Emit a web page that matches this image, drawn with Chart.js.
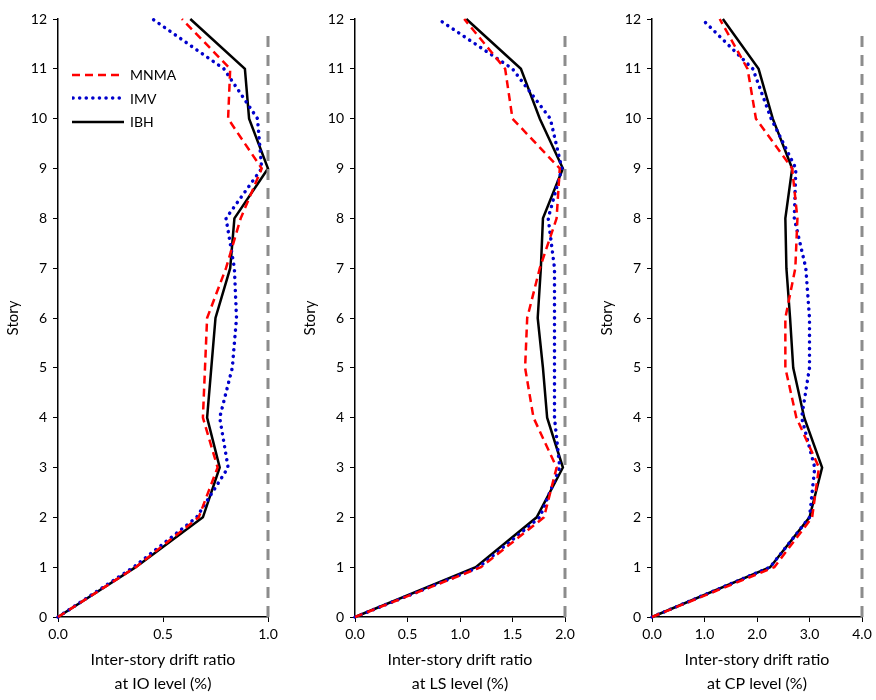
<!DOCTYPE html>
<html>
<head>
<meta charset="utf-8">
<script src="https://cdn.jsdelivr.net/npm/chart.js@4"></script>
<style>
  body { margin: 0; background: #fff; font-family: Lato, sans-serif; }
  .panel { position: absolute; top: 0; width: 292px; height: 700px; }
  #legend { position: absolute; left: 72px; top: 63px; font-size: 14px; color: #000; }
  #legend div { height: 23.5px; display: flex; align-items: center; }
  #legend svg { margin-right: 6px; }
</style>
</head>
<body>
<div class="panel" style="left:0"><canvas id="c0"></canvas></div>
<div class="panel" style="left:297px"><canvas id="c1"></canvas></div>
<div class="panel" style="left:594px"><canvas id="c2"></canvas></div>
<div id="legend">
  <div><svg width="52" height="6"><line x1="0" y1="3" x2="52" y2="3" stroke="#ff0000" stroke-width="2.5" stroke-dasharray="8,5"/></svg>MNMA</div>
  <div><svg width="52" height="6"><line x1="1" y1="3" x2="52" y2="3" stroke="#0000cc" stroke-width="3.5" stroke-linecap="round" stroke-dasharray="0.1,6.5"/></svg>IMV</div>
  <div><svg width="52" height="6"><line x1="0" y1="3" x2="52" y2="3" stroke="#000" stroke-width="2.5"/></svg>IBH</div>
</div>
<script>
// Stories 0..12
const stories = [0, 1, 2, 3, 4, 5, 6, 7, 8, 9, 10, 11, 12];

// IO level
const ioMNMA = [0, 0.37, 0.67, 0.76, 0.69, 0.70, 0.71, 0.80, 0.87, 0.97, 0.81, 0.82, 0.59];
const ioIMV  = [0, 0.36, 0.66, 0.81, 0.77, 0.83, 0.85, 0.84, 0.80, 0.97, 0.95, 0.79, 0.45];
const ioIBH  = [0, 0.37, 0.69, 0.77, 0.71, 0.73, 0.75, 0.82, 0.84, 1.00, 0.91, 0.89, 0.63];

// LS level
const lsMNMA = [0, 1.20, 1.80, 1.92, 1.70, 1.62, 1.64, 1.76, 1.92, 1.95, 1.50, 1.43, 1.04];
const lsIMV  = [0, 1.18, 1.76, 1.95, 1.90, 1.90, 1.90, 1.90, 1.84, 1.97, 1.86, 1.50, 0.79];
const lsIBH  = [0, 1.15, 1.73, 1.98, 1.83, 1.79, 1.74, 1.77, 1.79, 1.98, 1.76, 1.58, 1.06];

// CP level
const cpMNMA = [0, 2.33, 3.05, 3.18, 2.75, 2.54, 2.54, 2.73, 2.77, 2.67, 1.98, 1.82, 1.29];
const cpIMV  = [0, 2.25, 3.00, 3.10, 2.85, 3.00, 3.00, 2.93, 2.71, 2.74, 2.27, 1.92, 0.95];
const cpIBH  = [0, 2.25, 3.00, 3.24, 2.90, 2.69, 2.63, 2.56, 2.54, 2.67, 2.30, 2.03, 1.35];

const panels = [
  { id: 'c0', level: 'IO', max: 1.0, step: 0.5, series: [ioMNMA, ioIMV, ioIBH] },
  { id: 'c1', level: 'LS', max: 2.0, step: 0.5, series: [lsMNMA, lsIMV, lsIBH] },
  { id: 'c2', level: 'CP', max: 4.0, step: 1.0, series: [cpMNMA, cpIMV, cpIBH] }
];

const font = { family: 'Lato, sans-serif', size: 14 };

function pts(arr) {
  return stories.map((s, i) => ({ x: arr[i], y: s }));
}

panels.forEach(p => {
  const ctx = document.getElementById(p.id).getContext('2d');
  new Chart(ctx, {
    type: 'scatter',
    data: {
      datasets: [
        { label: 'limit', data: [{ x: p.max, y: 0 }, { x: p.max, y: 11.8 }], showLine: true, clip: false,
          borderColor: '#8c8c8c', borderWidth: 3, borderDash: [11, 8], pointRadius: 0 },
        { label: 'MNMA', data: pts(p.series[0]), showLine: true, clip: false,
          borderColor: '#ff0000', borderWidth: 2.5, borderDash: [8, 5], pointRadius: 0 },
        { label: 'IMV', data: pts(p.series[1]), showLine: true, clip: false,
          borderColor: '#0000cc', borderWidth: 3.5, borderDash: [0.1, 6.5], borderCapStyle: 'round', pointRadius: 0 },
        { label: 'IBH', data: pts(p.series[2]), showLine: true, clip: false,
          borderColor: '#000000', borderWidth: 2.5, pointRadius: 0 }
      ]
    },
    options: {
      responsive: true,
      maintainAspectRatio: false,
      animation: false,
      layout: { padding: { top: 19, right: 24, left: 0, bottom: 0 } },
      plugins: { legend: { display: false }, tooltip: { enabled: false } },
      scales: {
        x: {
          type: 'linear', min: 0, max: p.max,
          afterFit: a => { a.height = 83; },
          ticks: { stepSize: p.step, color: '#000', font: font, padding: 4,
                   callback: v => v.toFixed(1) },
          grid: { drawOnChartArea: false, drawTicks: true, tickLength: 5, color: '#000' },
          border: { color: '#000', width: 1.5 },
          title: { display: true, text: ['Inter-story drift ratio', 'at ' + p.level + ' level (%)'],
                   color: '#000', font: { family: 'Lato, sans-serif', size: 16, lineHeight: 1.5 }, padding: { top: 4 } }
        },
        y: {
          type: 'linear', min: 0, max: 12,
          afterFit: a => { a.width = 58; },
          ticks: { stepSize: 1, color: '#000', font: font, padding: 6 },
          grid: { drawOnChartArea: false, drawTicks: true, tickLength: 5, color: '#000' },
          border: { color: '#000', width: 1.5 },
          title: { display: true, text: 'Story', color: '#000',
                   font: { family: 'Lato, sans-serif', size: 15 }, padding: { bottom: 2 } }
        }
      }
    }
  });
});
</script>
</body>
</html>
